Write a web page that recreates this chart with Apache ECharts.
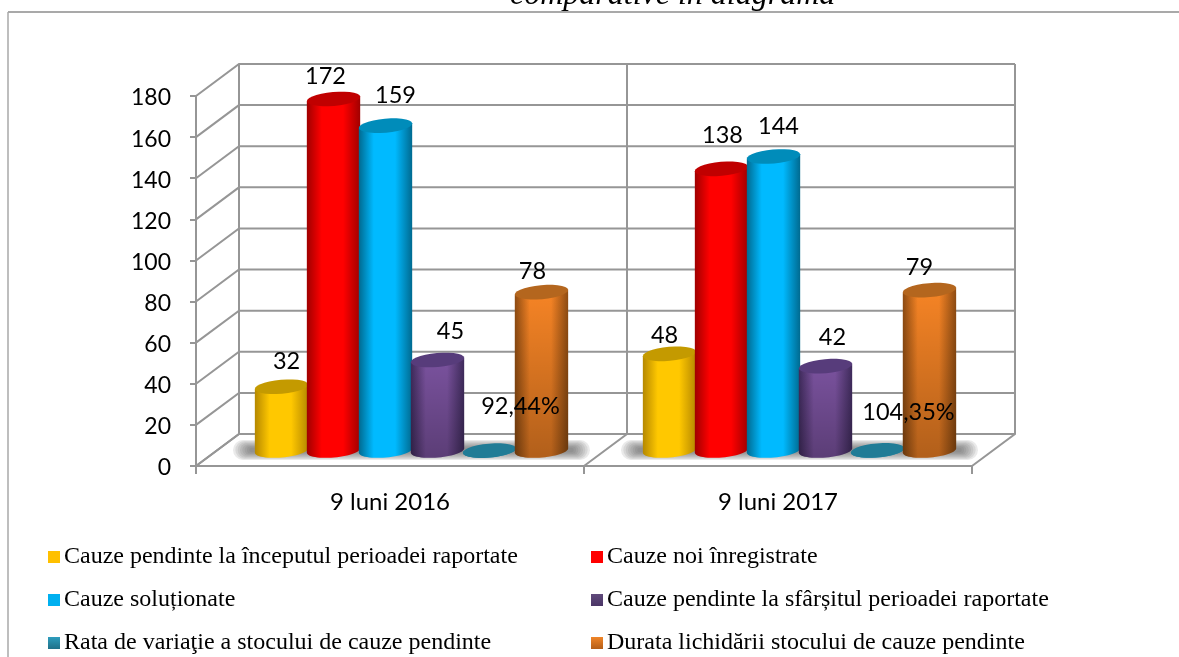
<!DOCTYPE html>
<html><head><meta charset="utf-8">
<style>html,body{margin:0;padding:0;background:#fff}#c{width:1179px;height:657px}</style>
<script src="https://cdn.jsdelivr.net/npm/echarts@6/dist/echarts.min.js"></script>
</head><body><div id="c"></div>
<script>
var categories = ['9 luni 2016', '9 luni 2017'];
var yTicks = [0,20,40,60,80,100,120,140,160,180];
var names = [
  'Cauze pendinte la începutul perioadei raportate',
  'Cauze noi înregistrate',
  'Cauze soluționate',
  'Cauze pendinte la sfârșitul perioadei raportate',
  'Rata de variaţie a stocului de cauze pendinte',
  'Durata lichidării stocului de cauze pendinte'
];
var pendingStart = [32, 48];
var newCases = [172, 138];
var solved = [159, 144];
var pendingEnd = [45, 42];
var rate = [0.9244, 1.0435];
var duration = [78, 79];
var values = [pendingStart, newCases, solved, pendingEnd, rate, duration];

var looks = [
  {legend:'#FFC000', edge:'#B58800', mid:'#FFC800', top:'#C49A00'},
  {legend:'#FF0000', edge:'#A00000', mid:'#FF0000', top:'#C00000'},
  {legend:'#00B0F0', edge:'#006A90', mid:'#00BAFF', top:'#008CBA'},
  {legend:'#604A7B', legendEnd:'#4A3566', edge:'#3F2B5C', mid:'#7A529E', top:'#573C7B', fade:0.25},
  {legend:'#2E9DBD', legendEnd:'#1F7088', edge:'#217C96', mid:'#2A90AE', top:'#217C96'},
  {legend:'#F08528', legendEnd:'#B45E18', edge:'#8F4C12', mid:'#F68425', top:'#B4661E', fade:0.28}
];
var labelNudges = [
  [[5,-25],[-5,-18]],
  [[-8,-23],[1,-33]],
  [[10,-30],[5,-30]],
  [[13,-29],[7,-29]],
  [[31,-44],[31,-38]],
  [[-9,-21],[-10,-23]]
];
var DEPTH_X = 43, DEPTH_Y = 32, FONT = 'Lato, sans-serif', GRID = '#969696';

function ellipsePoints(cx, cy, rx, ry, from, to) {
  var a = -5 * Math.PI / 180, pts = [], n = 28;
  for (var i = 0; i <= n; i++) {
    var t = from + (to - from) * i / n;
    pts.push([cx + rx*Math.cos(t)*Math.cos(a) - ry*Math.sin(t)*Math.sin(a),
              cy + rx*Math.cos(t)*Math.sin(a) + ry*Math.sin(t)*Math.cos(a)]);
  }
  return pts;
}
function labelText(s, v) {
  return s === 4 ? (v * 100).toFixed(2).replace('.', ',') + '%' : String(v);
}
function barRender(s) {
  return function (params, api) {
    var idx = api.value(0), v = api.value(1);
    var slot = api.size([1, 0])[0] * 0.134;
    var cx = api.coord([idx, 0])[0] + (s - 2.5) * slot + DEPTH_X / 2;
    var baseY = api.coord([idx, 0])[1] - 15.5;
    var topY = api.coord([idx, v])[1] - 13.5;
    var rx = slot * 0.515, ry = 7, lk = looks[s];
    var body = ellipsePoints(cx, topY, rx, ry, 0, 0)
      .concat(ellipsePoints(cx, baseY, rx, ry, 0, Math.PI))
      .concat(ellipsePoints(cx, topY, rx, ry, Math.PI, Math.PI));
    var grad = {type:'linear', x:0, y:0, x2:1, y2:0, colorStops:[
      {offset:0, color:lk.edge},{offset:0.28, color:lk.mid},{offset:0.68, color:lk.mid},{offset:1, color:lk.edge}]};
    var kids = [{type:'polygon', shape:{points:body}, style:{fill:grad}}];
    if (lk.fade) {
      kids.push({type:'polygon', shape:{points:body}, style:{fill:{type:'linear', x:0, y:0, x2:0, y2:1, colorStops:[
        {offset:0, color:'rgba(0,0,0,0)'},{offset:1, color:'rgba(0,0,0,' + lk.fade + ')'}]}}});
    }
    kids.push({type:'polygon', shape:{points:ellipsePoints(cx, topY, rx, ry, 0, 2 * Math.PI)}, style:{fill:lk.top}});
    var n = labelNudges[s][idx];
    kids.push({type:'text', z2:100, style:{text:labelText(s, v), x:cx + n[0], y:topY + n[1],
      align:'center', verticalAlign:'middle', fontFamily:FONT, fontSize:23.5, fill:'#000'}});
    return {type:'group', children:kids};
  };
}
function wallRender(params, api) {
  var v = api.value(0);
  var l = api.coord([0, v]);
  var halfCat = api.size([1, 0])[0] / 2;
  var x0 = l[0] - halfCat, y0 = l[1];
  var xEnd = x0 + api.size([1, 0])[0] * categories.length;
  var lineStyle = {stroke:GRID, lineWidth:2, fill:'none'};
  return {type:'polyline', shape:{points:[[x0, y0],[x0 + DEPTH_X, y0 - DEPTH_Y],[xEnd + DEPTH_X, y0 - DEPTH_Y]]}, style:lineStyle};
}
function frameRender(params, api) {
  var i = api.value(0);
  var w = api.size([1, 0])[0];
  var x = api.coord([0, 0])[0] - w / 2 + i * w;
  var y0 = api.coord([0, 0])[1], y1 = api.coord([0, yTicks[yTicks.length - 1]])[1];
  return {type:'polyline', shape:{points:[[x, y0],[x + DEPTH_X, y0 - DEPTH_Y],[x + DEPTH_X, y1 - DEPTH_Y]]},
    style:{stroke:GRID, lineWidth:2, fill:'none'}};
}
function shadowRender(params, api) {
  var w = api.size([1, 0])[0], c = api.coord([api.value(0), 0]);
  var kids = [], cx = c[0] + DEPTH_X / 2, cy = c[1] - 16;
  for (var k = 0; k < 8; k++) {
    var sw = w * (0.92 - k * 0.012), sh = 20 - k * 2.2;
    kids.push({type:'rect', shape:{x:cx - sw / 2, y:cy - sh / 2, width:sw, height:sh, r:sh / 2},
      style:{fill:'rgba(90,90,90,0.13)'}});
  }
  return {type:'group', children:kids};
}
var series = [
  {type:'custom', silent:true, renderItem:wallRender, data:yTicks.map(function(v){return [v];}), encode:{y:0}, z:1},
  {type:'custom', silent:true, renderItem:frameRender, data:[[0],[1],[2]], encode:{}, z:1},
  {type:'custom', silent:true, renderItem:shadowRender, data:categories.map(function(c,i){return [i];}), encode:{x:0}, z:1}
];
values.forEach(function (arr, s) {
  series.push({type:'custom', name:names[s], itemStyle:{color:looks[s].legend}, renderItem:barRender(s),
    data:arr.map(function(v,i){return [i,v];}), encode:{x:0,y:1}, z:2});
});
function legendBlock(left, idxs) {
  return {orient:'vertical', left:left, top:543, height:114, itemWidth:12, itemHeight:12, itemGap:15, icon:'rect',
    selectedMode:false, padding:0,
    textStyle:{fontFamily:'"Liberation Serif", serif', fontSize:24, color:'#000', padding:[0,0,0,-1], lineHeight:28},
    data:idxs.map(function(i){
      var lk = looks[i];
      return {name:names[i], itemStyle:{color: lk.legendEnd ? {type:'linear', x:0, y:0, x2:0, y2:1,
        colorStops:[{offset:0, color:lk.legend},{offset:1, color:lk.legendEnd}]} : lk.legend}};
    })};
}
var chart = echarts.init(document.getElementById('c'), null, {renderer:'canvas'});
chart.setOption({
  animation:false,
  backgroundColor:'#fff',
  title:{text:'comparative în diagrama', left:510, top:-20, padding:0,
    textStyle:{fontFamily:'"Liberation Serif", serif', fontStyle:'italic', fontWeight:'normal', fontSize:32, color:'#000'}},
  grid:{left:196, top:96, width:776, height:370},
  legend:[legendBlock(48, [0,2,4]), legendBlock(591, [1,3,5])],
  xAxis:{type:'category', data:categories, boundaryGap:true,
    axisLine:{lineStyle:{color:GRID, width:2}},
    axisTick:{show:true, length:8, alignWithLabel:false, lineStyle:{color:GRID, width:2}},
    axisLabel:{fontFamily:FONT, fontSize:24, color:'#000', margin:24},
    splitLine:{show:false}},
  yAxis:{type:'value', min:0, max:180, interval:20,
    axisLine:{show:true, lineStyle:{color:GRID, width:2}},
    axisTick:{show:true, length:6, lineStyle:{color:GRID, width:2}},
    axisLabel:{color:'#000', margin:25, formatter:'{n|{value}}',
      rich:{n:{fontFamily:FONT, fontSize:23, color:'#000', padding:[4,0,0,0]}}},
    splitLine:{show:false}},
  graphic:[
    {type:'line', shape:{x1:8, y1:12, x2:1179, y2:12}, style:{stroke:'#8c8c8c', lineWidth:1.5}},
    {type:'line', shape:{x1:8, y1:12, x2:8, y2:657}, style:{stroke:'#a8a8a8', lineWidth:1.5}}
  ],
  series:series
});
</script></body></html>
